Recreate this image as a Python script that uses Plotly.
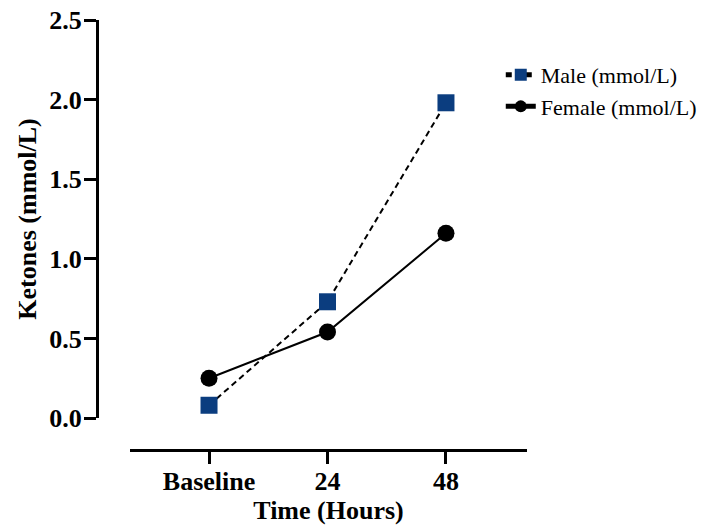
import plotly.graph_objects as go

categories = ["Baseline", "24", "48"]
male = [0.08, 0.73, 1.98]
female = [0.25, 0.54, 1.16]
y_ticks = [0.0, 0.5, 1.0, 1.5, 2.0, 2.5]
y_ticklabels = ["0.0", "0.5", "1.0", "1.5", "2.0", "2.5"]

xpos = list(range(len(categories)))
BLUE = "#0b3d7f"
FONT = "Liberation Serif"

fig = go.Figure()
fig.add_trace(go.Scatter(
    x=xpos, y=male, mode="lines+markers", name="Male (mmol/L)",
    line=dict(color="black", width=2, dash="6px,4px"),
    marker=dict(symbol="square", size=17, color=BLUE),
))
fig.add_trace(go.Scatter(
    x=xpos, y=female, mode="lines+markers", name="Female (mmol/L)",
    line=dict(color="black", width=2),
    marker=dict(symbol="circle", size=17, color="black"),
))

axis_common = dict(
    showline=True, linewidth=3, linecolor="black",
    ticks="outside", ticklen=12, tickwidth=3, tickcolor="black",
    showgrid=False, zeroline=False, automargin=False,
    ticklabeloverflow="allow",
    tickfont=dict(family=FONT, size=26, color="black", weight="bold"),
)

fig.update_layout(
    width=707, height=529, autosize=False,
    margin=dict(l=97, r=180, t=20, b=79, autoexpand=False),
    paper_bgcolor="white", plot_bgcolor="white",
    font=dict(family=FONT, color="black"),
    xaxis=dict(
        **axis_common,
        domain=[33 / 430, 1], anchor="free", position=0,
        range=[-0.667, 2.684],
        tickmode="array", tickvals=xpos, ticktext=categories,
        ticklabelstandoff=-5,
        title=dict(text="Time (Hours)", standoff=2,
                   font=dict(family=FONT, size=26, color="black", weight="bold")),
    ),
    yaxis=dict(
        **axis_common,
        domain=[32 / 430, 1], anchor="free", position=0,
        range=[0, 2.5],
        tickmode="array", tickvals=y_ticks, ticktext=y_ticklabels,
        ticklabelstandoff=-3,
        title=dict(text="Ketones (mmol/L)", standoff=4,
                   font=dict(family=FONT, size=26, color="black", weight="bold")),
    ),
    legend=dict(
        x=0.939, y=0.921, xanchor="left", yanchor="top",
        font=dict(family=FONT, size=22, color="black"),
        bgcolor="rgba(0,0,0,0)", tracegroupgap=0, itemsizing="constant",
    ),
    showlegend=True,
)

fig.write_html(
    "out.html",
    config={"responsive": False, "displayModeBar": False},
    post_script="document.body.style.margin='0';",
)
